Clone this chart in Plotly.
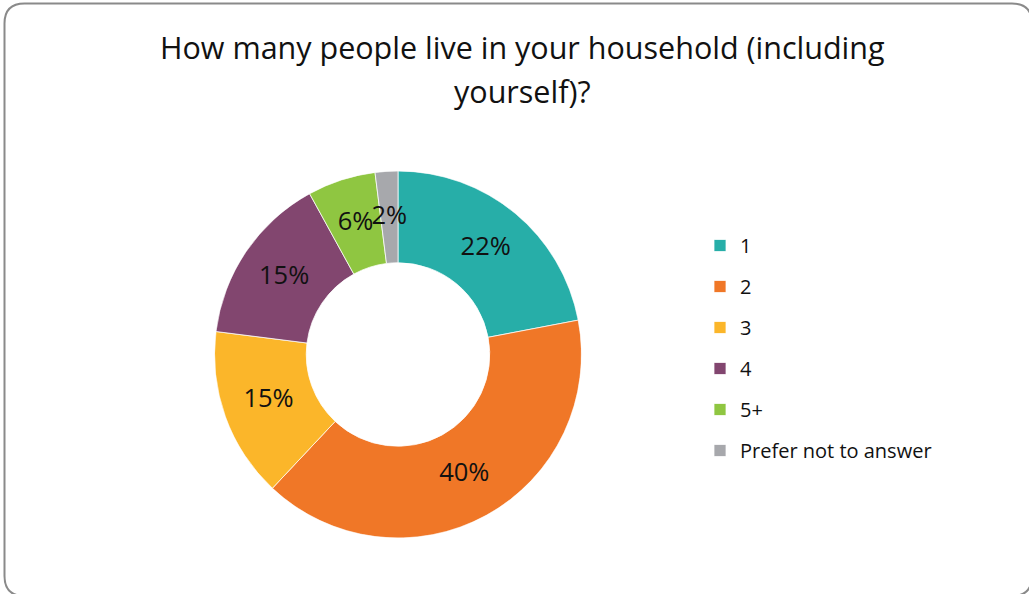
import plotly.graph_objects as go

# Survey responses: household size
categories = ["1", "2", "3", "4", "5+", "Prefer not to answer"]
shares = [22, 40, 15, 15, 6, 2]
colors = ["#27AEA8", "#F07727", "#FBB62A", "#82466F", "#8FC641", "#A7A8AC"]
title_lines = ["How many people live in your household (including", "yourself)?"]

W, H = 1029, 594
FONT = "Open Sans"
HOLE = 0.5

cx, cy, rad = 398, 354.5, 183.5
ring_domain = dict(x=[(cx - rad) / W, (cx + rad) / W],
                   y=[(H - cy - rad) / H, (H - cy + rad) / H])

# Angular extent of every ring segment (0 deg at top, clockwise)
total = sum(shares)
spans = [v / total * 360 for v in shares]
mids = []
running = 0
for s in spans:
    mids.append(running + s / 2)
    running += s

fig = go.Figure()

# Donut segments: one polar bar per category, from the hole to the rim
for cat, v, s, m, col in zip(categories, shares, spans, mids, colors):
    fig.add_trace(go.Barpolar(
        name=cat,
        theta=[m], width=[s],
        base=[HOLE], r=[1 - HOLE],
        marker=dict(color=col, line=dict(color="white", width=0.75)),
        hovertemplate=f"{cat}: {v}%<extra></extra>",
        legendgroup=cat,
    ))

# Data labels at the middle of each segment
fig.add_trace(go.Scatterpolar(
    r=[(1 + HOLE) / 2] * len(shares),
    theta=mids,
    mode="text",
    text=[f"{round(v / total * 100)}%" for v in shares],
    textposition="middle center",
    textfont=dict(family=FONT, size=25.5, color="#111111"),
    hoverinfo="skip",
    showlegend=False,
))

annotations = []
for k, line in enumerate(title_lines):
    annotations.append(dict(
        text=line, x=522 / W, y=1 - (47 + 44 * k) / H,
        xref="paper", yref="paper", xanchor="center", yanchor="middle",
        showarrow=False, font=dict(family=FONT, size=30.5, color="#111111"),
    ))

# Rounded chart border
x0, x1 = 4.5 / W, 1032.0 / W
y0, y1 = 1 - 596.0 / H, 1 - 3.5 / H
rx, ry = 20 / W, 20 / H
border = (f"M {x0 + rx},{y1} L {x1 - rx},{y1} Q {x1},{y1} {x1},{y1 - ry} "
          f"L {x1},{y0 + ry} Q {x1},{y0} {x1 - rx},{y0} "
          f"L {x0 + rx},{y0} Q {x0},{y0} {x0},{y0 + ry} "
          f"L {x0},{y1 - ry} Q {x0},{y1} {x0 + rx},{y1} Z")

fig.update_layout(
    width=W, height=H,
    margin=dict(l=0, r=0, t=0, b=0),
    paper_bgcolor="white", plot_bgcolor="white",
    polar=dict(
        domain=ring_domain,
        bgcolor="rgba(0,0,0,0)",
        bargap=0,
        radialaxis=dict(range=[0, 1], visible=False, showgrid=False),
        angularaxis=dict(visible=False, showgrid=False, direction="clockwise",
                         rotation=90, thetaunit="degrees"),
    ),
    annotations=annotations,
    shapes=[dict(type="path", path=border, xref="paper", yref="paper",
                 line=dict(color="#8A8A8A", width=2), layer="below")],
    legend=dict(
        x=700 / W, y=1 - 226 / H, xanchor="left", yanchor="top",
        font=dict(family=FONT, size=20, color="#111111"),
        tracegroupgap=12, bgcolor="rgba(0,0,0,0)",
        itemclick=False, itemdoubleclick=False,
    ),
)

fig.write_html("out.html")
